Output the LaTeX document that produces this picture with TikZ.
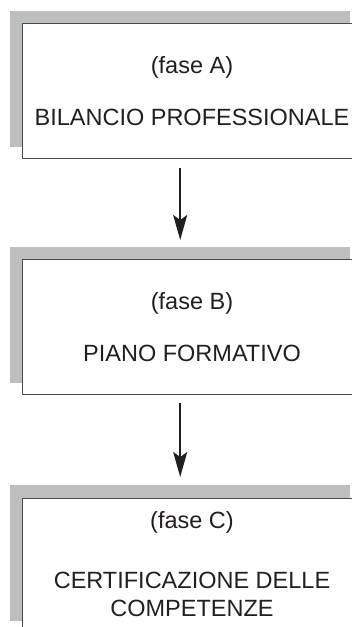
\documentclass[tikz,border=0pt]{standalone}
\usepackage{fontspec}
\setmainfont{Liberation Sans}
\usetikzlibrary{arrows.meta}
\definecolor{shade}{HTML}{BCBEC0}
\definecolor{edge}{HTML}{4A4A4C}
\definecolor{ink}{HTML}{231F20}
\begin{document}
\begin{tikzpicture}[x=1pt,y=-1pt,
  shadowbox/.style={fill=shade, draw=none, anchor=north west, inner sep=0pt,
    minimum width=340pt, minimum height=136pt},
  phasebox/.style={fill=white, draw=edge, line width=1.2pt, anchor=north west,
    inner sep=0pt, minimum width=340pt, minimum height=135pt},
  caption/.style={text=ink, anchor=base, inner sep=0pt,
    font=\fontsize{23.5}{28}\selectfont, align=center},
  flow/.style={draw=ink, line width=2pt,
    -{Stealth[length=25pt, width=14pt, inset=5pt]}}]
\useasboundingbox (0,0) rectangle (352,627);

% phase A
\node[shadowbox] (sA) at (10,11) {};
\node[phasebox] (A) at (22,23) {};
\node[caption] (tA1) at (192,73) {(fase A)};
\node[caption] (tA2) at (192,125) {BILANCIO PROFESSIONALE};

% phase B
\node[shadowbox] (sB) at (10,247) {};
\node[phasebox] (B) at (22,259) {};
\node[caption] (tB1) at (192,309) {(fase B)};
\node[caption] (tB2) at (192,361) {PIANO FORMATIVO};

% phase C
\node[shadowbox] (sC) at (10,485) {};
\node[phasebox] (C) at (22,498) {};
\node[caption] (tC1) at (192,528) {(fase C)};
\node[caption] (tC2) at (192,588) {CERTIFICAZIONE DELLE};
\node[caption] (tC3) at (192,616) {COMPETENZE};

% arrows between phases
\draw[flow] ([yshift=-21pt]sA.south) -- ([yshift=7pt]sB.north);
\draw[flow] ([yshift=-20pt]sB.south) -- ([yshift=8pt]sC.north);
\end{tikzpicture}
\end{document}
